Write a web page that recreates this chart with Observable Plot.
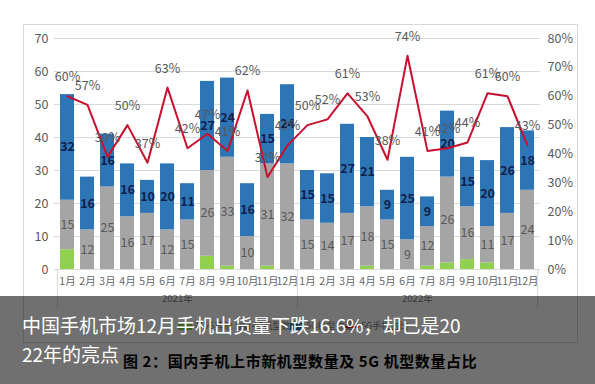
<!DOCTYPE html>
<html><head><meta charset="utf-8">
<script src="https://cdn.jsdelivr.net/npm/d3@7"></script>
<script src="https://cdn.jsdelivr.net/npm/@observablehq/plot@0.6"></script>
<style>
body{margin:0;background:#fff;}
#wrap{position:relative;width:595px;height:384px;overflow:hidden;font-family:"Noto Sans CJK SC","Noto Sans",sans-serif;}
#frame{position:absolute;left:23px;top:24px;width:555px;height:319px;border:1px solid #d9d9d9;box-sizing:border-box;}
#chart{position:absolute;left:0;top:0;}
#legend{position:absolute;left:0;top:320px;width:595px;font-size:9px;color:#7f7f7f;}
#legend span{position:absolute;white-space:nowrap;}
#banner{position:absolute;left:0;top:296px;width:595px;height:88px;background:rgba(0,0,0,0.56);}
#headline{position:absolute;left:22px;top:310px;width:444px;color:#fff;font-size:19px;line-height:29px;word-break:break-all;}
#caption{position:absolute;left:123px;top:350px;color:#000;font-size:15px;font-weight:bold;white-space:nowrap;letter-spacing:0.6px;}
</style></head>
<body>
<div id="wrap">
<div id="frame"></div>
<div id="chart"></div>
<div id="legend"></div>
<div id="banner"></div>
<div id="caption"></div>
<div id="headline"></div>
</div>
<script>
const months = ["1月","2月","3月","4月","5月","6月","7月","8月","9月","10月","11月","12月"];
const years = ["2021年","2022年"];
const seriesNames = ["非5G其他","4G机型数量","5G机型数量"];
const greenVals = [6,0,0,0,0,0,0,4,1,0,1,0, 0,0,0,1,0,0,1,2,3,2,0,0];
const grayVals  = [15,12,25,16,17,12,15,26,33,10,31,32, 15,14,17,18,15,9,12,26,16,11,17,24];
const blueVals  = [32,16,16,16,10,20,11,27,24,16,15,24, 15,15,27,21,9,25,9,20,15,20,26,18];
const share5G   = [60,57,39,50,37,63,42,47,41,62,32,43, 50,52,61,53,38,74,41,42,44,61,60,43];
const lineName = "5G手机占比";
const headlineText = "中国手机市场12月手机出货量下跌16.6%，却已是2022年的亮点";
const captionText = "图 2：国内手机上市新机型数量及 5G 机型数量占比";
const colors = ["#92d050","#a5a5a5","#2e75b6"];
const lineColor = "#c8102e";

const keys = [];
years.forEach(yr => months.forEach(m => keys.push(yr + "-" + m)));
const rows = [];
keys.forEach((k,i) => {
  rows.push({k, s: seriesNames[0], v: greenVals[i]});
  rows.push({k, s: seriesNames[1], v: grayVals[i]});
  rows.push({k, s: seriesNames[2], v: blueVals[i]});
});
const pts = keys.map((k,i) => ({k, p: share5G[i]}));
const S = 70/80;
const mL = 54, mR = 55;
const step = (595 - mL - mR) / keys.length;

const chart = Plot.plot({
  width: 595, height: 384,
  marginTop: 38, marginBottom: 115, marginLeft: mL, marginRight: mR,
  style: {fontFamily: '"Noto Sans CJK SC","Noto Sans",sans-serif', fontSize: "12px", color: "#595959", background: "transparent"},
  x: {type: "band", domain: keys, paddingInner: 0.31, paddingOuter: 0.155, axis: null},
  y: {domain: [0, 70], axis: null},
  color: {domain: seriesNames, range: colors},
  marks: [
    Plot.gridY(d3.range(10, 71, 10), {stroke: "#d9d9d9", strokeOpacity: 1}),
    Plot.ruleY([0], {stroke: "#d9d9d9"}),
    Plot.axisY(d3.range(0, 71, 10), {anchor: "left", label: null, tickSize: 0, tickPadding: 6, fontSize: 12.5, fill: "#595959"}),
    Plot.axisY(d3.range(0, 81, 10).map(p => p * S), {anchor: "right", label: null, tickSize: 0, tickPadding: 7, fontSize: 12.5, fill: "#595959", tickFormat: v => Math.round(v / S) + "%"}),
    Plot.axisX({anchor: "bottom", label: null, tickSize: 0, tickPadding: 8, fontSize: 10.5, fill: "#666", tickFormat: k => k.split("-")[1]}),
    Plot.ruleX([keys[0], keys[12]], {dx: -step/2, y1: () => 0, y2: () => -12, stroke: "#d9d9d9"}),
    Plot.ruleX([keys[23]], {dx: step/2, y1: () => 0, y2: () => -12, stroke: "#d9d9d9"}),
    Plot.text([{k: keys[6], t: years[0]}, {k: keys[18], t: years[1]}], {x: "k", y: () => -9, text: "t", dx: -step/2, fontSize: 9.5, fill: "#7f7f7f"}),
    Plot.barY(rows, {x: "k", y: "v", fill: "s", z: "s"}),
    Plot.text(rows, Plot.stackY({x: "k", y: "v", z: "s", text: d => d.s === seriesNames[1] ? String(d.v) : "", fill: "#595959", fontSize: 12.5})),
    Plot.text(rows, Plot.stackY({x: "k", y: "v", z: "s", text: d => d.s === seriesNames[2] ? String(d.v) : "", fill: "#0e1f4d", fontSize: 12.5, fontWeight: 600})),
    Plot.line(pts, {x: "k", y: d => d.p * S, stroke: lineColor, strokeWidth: 2}),
    Plot.text(pts, {x: "k", y: d => d.p * S, text: d => d.p + "%", dy: -19, fill: "#595959", fontSize: 12.5})
  ]
});
document.getElementById("chart").appendChild(chart);

// legend (mostly hidden under the banner, as in the source)
const lg = document.getElementById("legend");
const items = [
  {x: 178, sw: colors[0], t: seriesNames[0]},
  {x: 236, sw: colors[1], t: seriesNames[1]},
  {x: 290, sw: colors[2], t: seriesNames[2]},
  {x: 345, line: lineColor, t: lineName}
];
items.forEach(it => {
  const sw = document.createElement("span");
  if (it.sw) { sw.style.cssText = `left:${it.x}px;top:3px;width:14px;height:7px;background:${it.sw}`; }
  else { sw.style.cssText = `left:${it.x}px;top:6px;width:14px;height:2px;background:${it.line}`; }
  lg.appendChild(sw);
  const tx = document.createElement("span");
  tx.style.cssText = `left:${it.x + 16}px;top:-1px;`;
  tx.textContent = it.t;
  lg.appendChild(tx);
});
document.getElementById("caption").textContent = captionText;
document.getElementById("headline").textContent = headlineText;
</script>
</body></html>
